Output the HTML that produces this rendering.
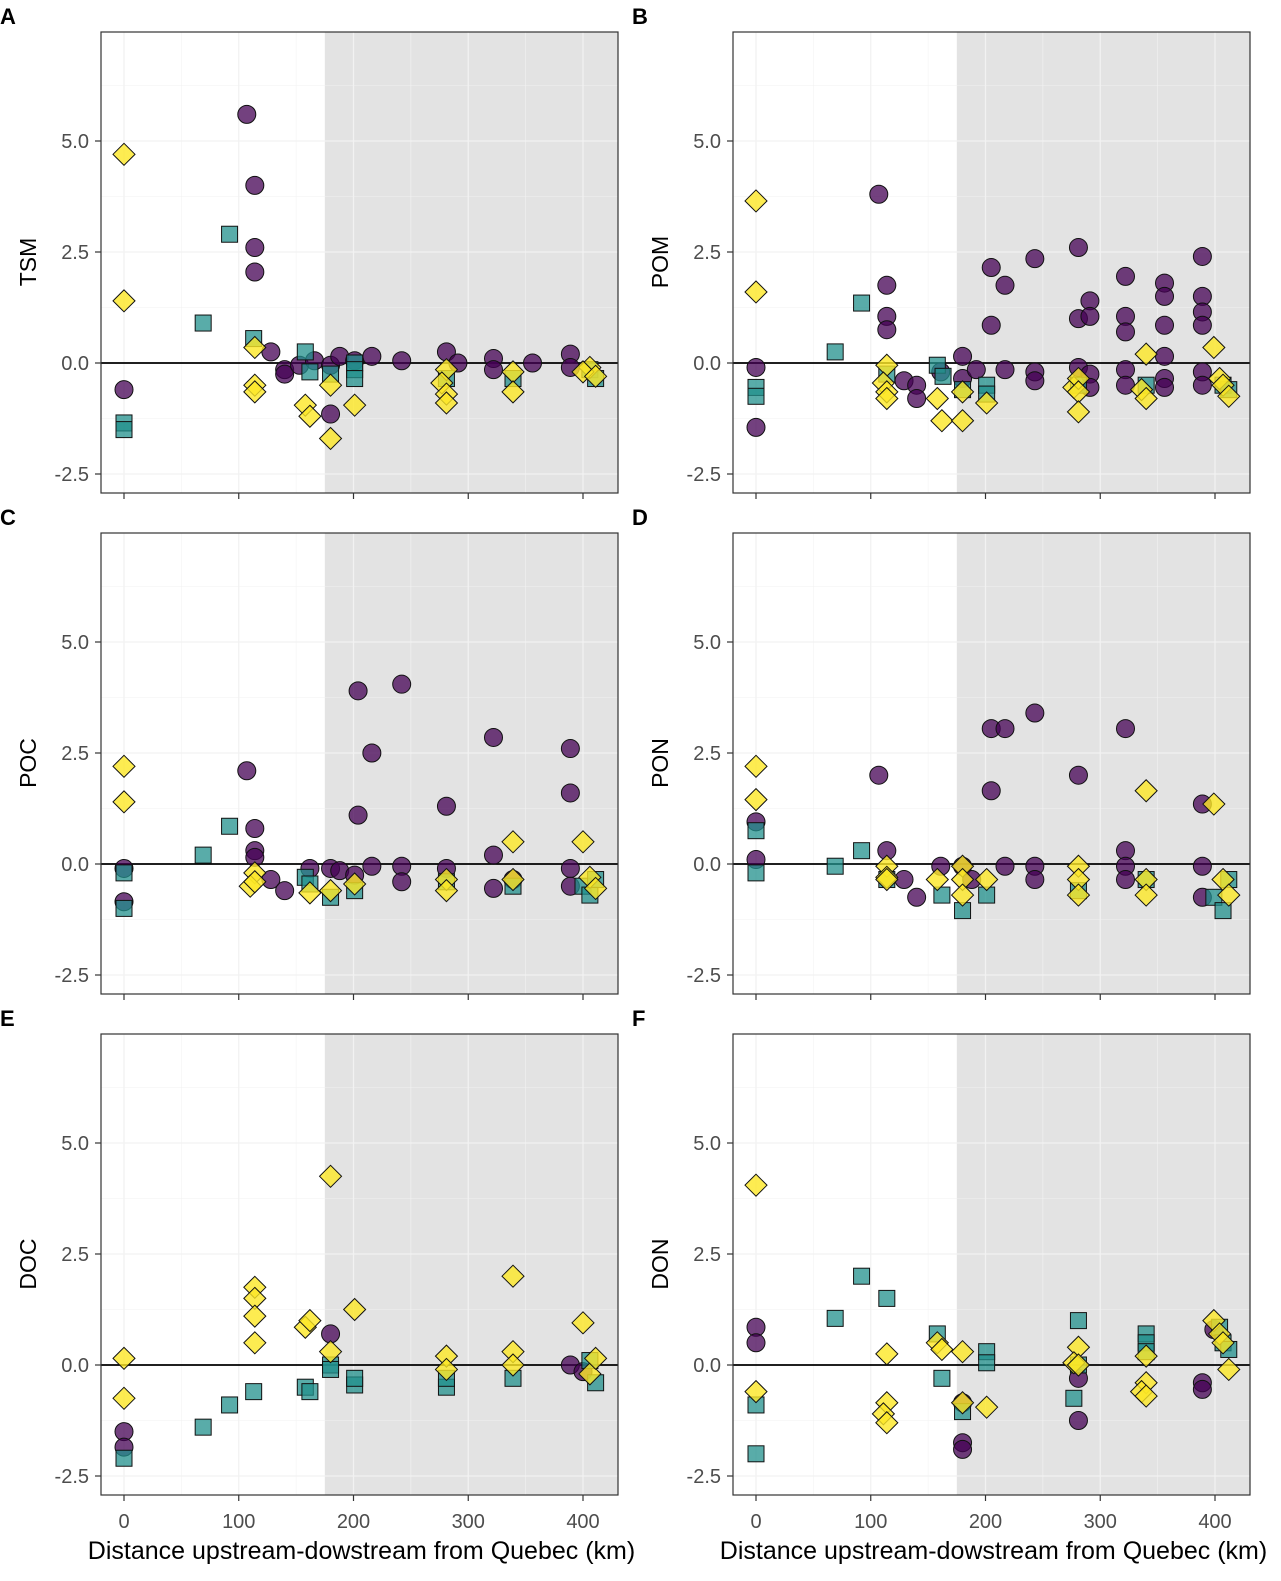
<!DOCTYPE html>
<html><head><meta charset="utf-8"><style>
body{margin:0;background:#fff;}
svg{display:block;font-family:"Liberation Sans",Arial,sans-serif;}
</style></head><body>
<svg id="chart" width="1281" height="1581" viewBox="0 0 1281 1581"></svg>
<script>
// categories / panels
const panelIds = ["A","B","C","D","E","F"];
const panelVars = ["TSM","POM","POC","PON","DOC","DON"];
const xTicks = [0,100,200,300,400];
const yTicks = [-2.5,0,2.5,5];
const yTickLabels = ["-2.5","0.0","2.5","5.0"];
const shadeStartKm = 175;
// series data [km, value]
const tsmPurple=[[0,-0.6],[107,5.6],[114,4.0],[114,2.6],[114,2.05],[128,0.25],[140,-0.15],[140,-0.25],[153,-0.05],[166,0.05],[180,-0.05],[180,-1.15],[188,0.15],[201,0.05],[216,0.15],[242,0.05],[281,0.25],[291,0],[322,0.1],[322,-0.15],[356,0],[389,0.2],[389,-0.1]];
const tsmTeal=[[0,-1.35],[0,-1.5],[69,0.9],[92,2.9],[113,0.55],[158,0.25],[162,-0.2],[180,-0.25],[201,0],[201,-0.15],[201,-0.35],[281,-0.35],[339,-0.35],[406,-0.15],[411,-0.35]];
const tsmYellow=[[0,4.7],[0,1.4],[114,0.35],[114,-0.5],[114,-0.65],[158,-0.95],[162,-1.2],[180,-0.5],[180,-1.7],[201,-0.95],[281,-0.15],[277,-0.45],[281,-0.7],[281,-0.9],[339,-0.2],[339,-0.65],[406,-0.1],[400,-0.2],[411,-0.3]];
const pomPurple=[[0,-0.1],[0,-1.45],[107,3.8],[114,1.75],[114,1.05],[114,0.75],[129,-0.4],[140,-0.5],[140,-0.8],[161,-0.2],[180,0.15],[180,-0.35],[192,-0.15],[205,2.15],[205,0.85],[217,1.75],[217,-0.15],[243,2.35],[243,-0.2],[243,-0.4],[281,2.6],[281,1.0],[281,-0.1],[291,1.4],[291,1.05],[291,-0.25],[291,-0.55],[322,1.95],[322,1.05],[322,0.7],[322,-0.15],[322,-0.5],[356,1.8],[356,1.5],[356,0.85],[356,0.15],[356,-0.35],[356,-0.55],[389,2.4],[389,1.5],[389,1.15],[389,0.85],[389,-0.2],[389,-0.5]];
const pomTeal=[[0,-0.55],[0,-0.75],[69,0.25],[92,1.35],[114,-0.25],[158,-0.05],[163,-0.3],[180,-0.6],[201,-0.5],[201,-0.7],[281,-0.5],[340,-0.5],[407,-0.5],[412,-0.6]];
const pomYellow=[[0,3.65],[0,1.6],[114,-0.05],[111,-0.45],[114,-0.65],[114,-0.8],[158,-0.8],[162,-1.3],[180,-0.65],[180,-1.3],[201,-0.9],[277,-0.55],[281,-0.35],[281,-0.65],[281,-1.1],[340,0.2],[336,-0.6],[340,-0.8],[399,0.35],[404,-0.35],[407,-0.5],[412,-0.75]];
const pocPurple=[[0,-0.1],[0,-0.85],[107,2.1],[114,0.8],[114,0.3],[114,0.15],[128,-0.35],[140,-0.6],[162,-0.1],[180,-0.1],[188,-0.15],[201,-0.25],[204,3.9],[204,1.1],[216,2.5],[216,-0.05],[242,4.05],[242,-0.05],[242,-0.4],[281,1.3],[281,-0.1],[322,2.85],[322,0.2],[322,-0.55],[339,-0.35],[389,2.6],[389,1.6],[389,-0.1],[389,-0.5]];
const pocTeal=[[0,-0.2],[0,-1.0],[69,0.2],[92,0.85],[158,-0.3],[162,-0.45],[180,-0.75],[201,-0.6],[281,-0.4],[339,-0.5],[400,-0.5],[406,-0.7],[411,-0.35]];
const pocYellow=[[0,2.2],[0,1.4],[114,-0.2],[110,-0.5],[114,-0.4],[162,-0.65],[180,-0.6],[201,-0.45],[281,-0.35],[281,-0.6],[339,0.5],[339,-0.35],[400,0.5],[406,-0.3],[411,-0.55]];
const ponPurple=[[0,0.95],[0,0.1],[107,2.0],[114,0.3],[129,-0.35],[140,-0.75],[161,-0.05],[180,-0.05],[188,-0.35],[205,3.05],[217,3.05],[205,1.65],[217,-0.05],[243,3.4],[243,-0.05],[243,-0.35],[281,2.0],[322,3.05],[322,0.3],[322,-0.05],[322,-0.35],[389,1.35],[389,-0.05],[389,-0.75]];
const ponTeal=[[0,0.75],[0,-0.2],[69,-0.05],[92,0.3],[114,-0.35],[162,-0.7],[180,-1.05],[201,-0.7],[281,-0.6],[340,-0.35],[399,-0.75],[407,-1.05],[412,-0.35]];
const ponYellow=[[0,2.2],[0,1.45],[114,-0.05],[114,-0.3],[114,-0.35],[158,-0.35],[180,-0.05],[180,-0.35],[180,-0.7],[201,-0.35],[281,-0.05],[281,-0.35],[281,-0.7],[340,1.65],[340,-0.35],[340,-0.7],[399,1.35],[407,-0.35],[412,-0.7]];
const docPurple=[[0,-1.5],[0,-1.85],[180,0.7],[389,0],[400,-0.15]];
const docTeal=[[0,-2.1],[69,-1.4],[92,-0.9],[113,-0.6],[158,-0.5],[162,-0.6],[180,0],[180,-0.1],[201,-0.45],[201,-0.3],[281,-0.5],[281,-0.3],[339,-0.3],[406,0.1],[411,-0.4]];
const docYellow=[[0,0.15],[0,-0.75],[114,1.75],[114,1.5],[114,1.1],[114,0.5],[158,0.85],[162,1.0],[180,4.25],[180,0.3],[201,1.25],[281,0.2],[281,-0.1],[339,2.0],[339,0.3],[339,0],[400,0.95],[406,-0.2],[411,0.15]];
const donPurple=[[0,0.85],[0,0.5],[180,-1.75],[180,-1.9],[180,-0.85],[281,-0.3],[281,-1.25],[389,-0.4],[389,-0.55],[399,0.8]];
const donTeal=[[0,-0.9],[0,-2.0],[69,1.05],[92,2.0],[114,1.5],[158,0.7],[162,-0.3],[180,-1.05],[201,0.3],[201,0.05],[281,1.0],[277,-0.75],[281,0],[340,0.7],[340,0.5],[340,0.3],[404,0.85],[407,0.5],[412,0.35]];
const donYellow=[[0,4.05],[0,-0.6],[114,0.25],[114,-0.85],[111,-1.1],[114,-1.3],[158,0.5],[162,0.35],[180,0.3],[180,-0.85],[201,-0.95],[281,0.4],[277,0.05],[281,0],[340,0.2],[340,-0.4],[336,-0.6],[340,-0.7],[399,1.0],[404,0.7],[407,0.5],[412,-0.1]];
const purpleSets=[tsmPurple,pomPurple,pocPurple,ponPurple,docPurple,donPurple];
const tealSets=[tsmTeal,pomTeal,pocTeal,ponTeal,docTeal,donTeal];
const yellowSets=[tsmYellow,pomYellow,pocYellow,ponYellow,docYellow,donYellow];

const NS="http://www.w3.org/2000/svg";
const svg=document.getElementById("chart");
function mk(tag,attrs,parent){const e=document.createElementNS(NS,tag);for(const k in attrs)e.setAttribute(k,attrs[k]);(parent||svg).appendChild(e);return e;}

const colL=[101,733], colW=517, rowT=[32,533,1034], rowH=461;
for(let p=0;p<6;p++){
  const c=p%2, r=Math.floor(p/2);
  const L=colL[c], T=rowT[r], R=L+colW, B=T+rowH;
  const x0=L+23, xs=1.1475, y0=T+331, ys=44.4;
  const X=v=>x0+v*xs, Y=v=>y0-v*ys;
  const g=mk("g",{});
  
  
  mk("rect",{x:L,y:T,width:colW,height:rowH,fill:"#fff"},g);
  const sh=mk("rect",{x:X(shadeStartKm),y:T,width:R-X(shadeStartKm),height:rowH,fill:"#e3e3e3"},g);
  
  
  for(let k=-50;k<=450;k+=50){const x=X(k);if(x<=L||x>=R)continue;mk("line",{x1:x,x2:x,y1:T,y2:B,stroke:"#f2f2f2","stroke-width":k%100===0?1.3:0.6},g);}
  for(let v=-3.75;v<=7.5;v+=1.25){const y=Y(v);if(y<=T||y>=B)continue;mk("line",{x1:L,x2:R,y1:y,y2:y,stroke:"#f2f2f2","stroke-width":Math.abs(v/2.5-Math.round(v/2.5))<0.01?1.3:0.6},g);}
  const zl=mk("line",{x1:L,x2:R,y1:Y(0),y2:Y(0),stroke:"#000","stroke-width":1.8},g);
  
  
  purpleSets[p].forEach(d=>{const e=mk("circle",{cx:X(d[0]),cy:Y(d[1]),r:9,fill:"#440154","fill-opacity":0.75,stroke:"#111","stroke-width":1},g);
    
    });
  tealSets[p].forEach(d=>{const e=mk("rect",{x:X(d[0])-8,y:Y(d[1])-8,width:16,height:16,fill:"#21908C","fill-opacity":0.75,stroke:"#111","stroke-width":1},g);
    
    });
  yellowSets[p].forEach(d=>{const cx=X(d[0]),cy=Y(d[1]);const e=mk("polygon",{points:`${cx},${cy-11} ${cx+11},${cy} ${cx},${cy+11} ${cx-11},${cy}`,fill:"#FDE725","fill-opacity":0.8,stroke:"#111","stroke-width":1},g);
    
    });
  mk("rect",{x:L,y:T,width:colW,height:rowH,fill:"none",stroke:"#333","stroke-width":1.2},g);
  yTicks.forEach((v,i)=>{const y=Y(v);mk("line",{x1:L-6,x2:L,y1:y,y2:y,stroke:"#333","stroke-width":1.2},g);
    const t=mk("text",{x:L-12,y:y+7,"text-anchor":"end","font-size":20,fill:"#4d4d4d"},g);t.textContent=yTickLabels[i];
    
    });
  xTicks.forEach(v=>{const x=X(v);mk("line",{x1:x,x2:x,y1:B,y2:B+6,stroke:"#333","stroke-width":1.2},g);
    if(r===2){const t=mk("text",{x:x,y:B+33,"text-anchor":"middle","font-size":20,fill:"#4d4d4d"},g);t.textContent=v;
      
      }});
  const yl=mk("text",{x:0,y:0,transform:`translate(${L-65},${Y(2.5)+10}) rotate(-90)`,"text-anchor":"middle","font-size":23,fill:"#000"},g);
  yl.textContent=panelVars[p];
  
  
  const pl=mk("text",{x:L-101,y:T-8,"font-size":22,"font-weight":"bold",fill:"#000"},g);
  pl.textContent=panelIds[p];
  
  
  if(r===2){const xt=mk("text",{x:L+colW/2+2,y:B+64,"text-anchor":"middle","font-size":25,fill:"#000"},g);
    xt.textContent="Distance upstream-dowstream from Quebec (km)";
    
    }
}
</script>
</body></html>
